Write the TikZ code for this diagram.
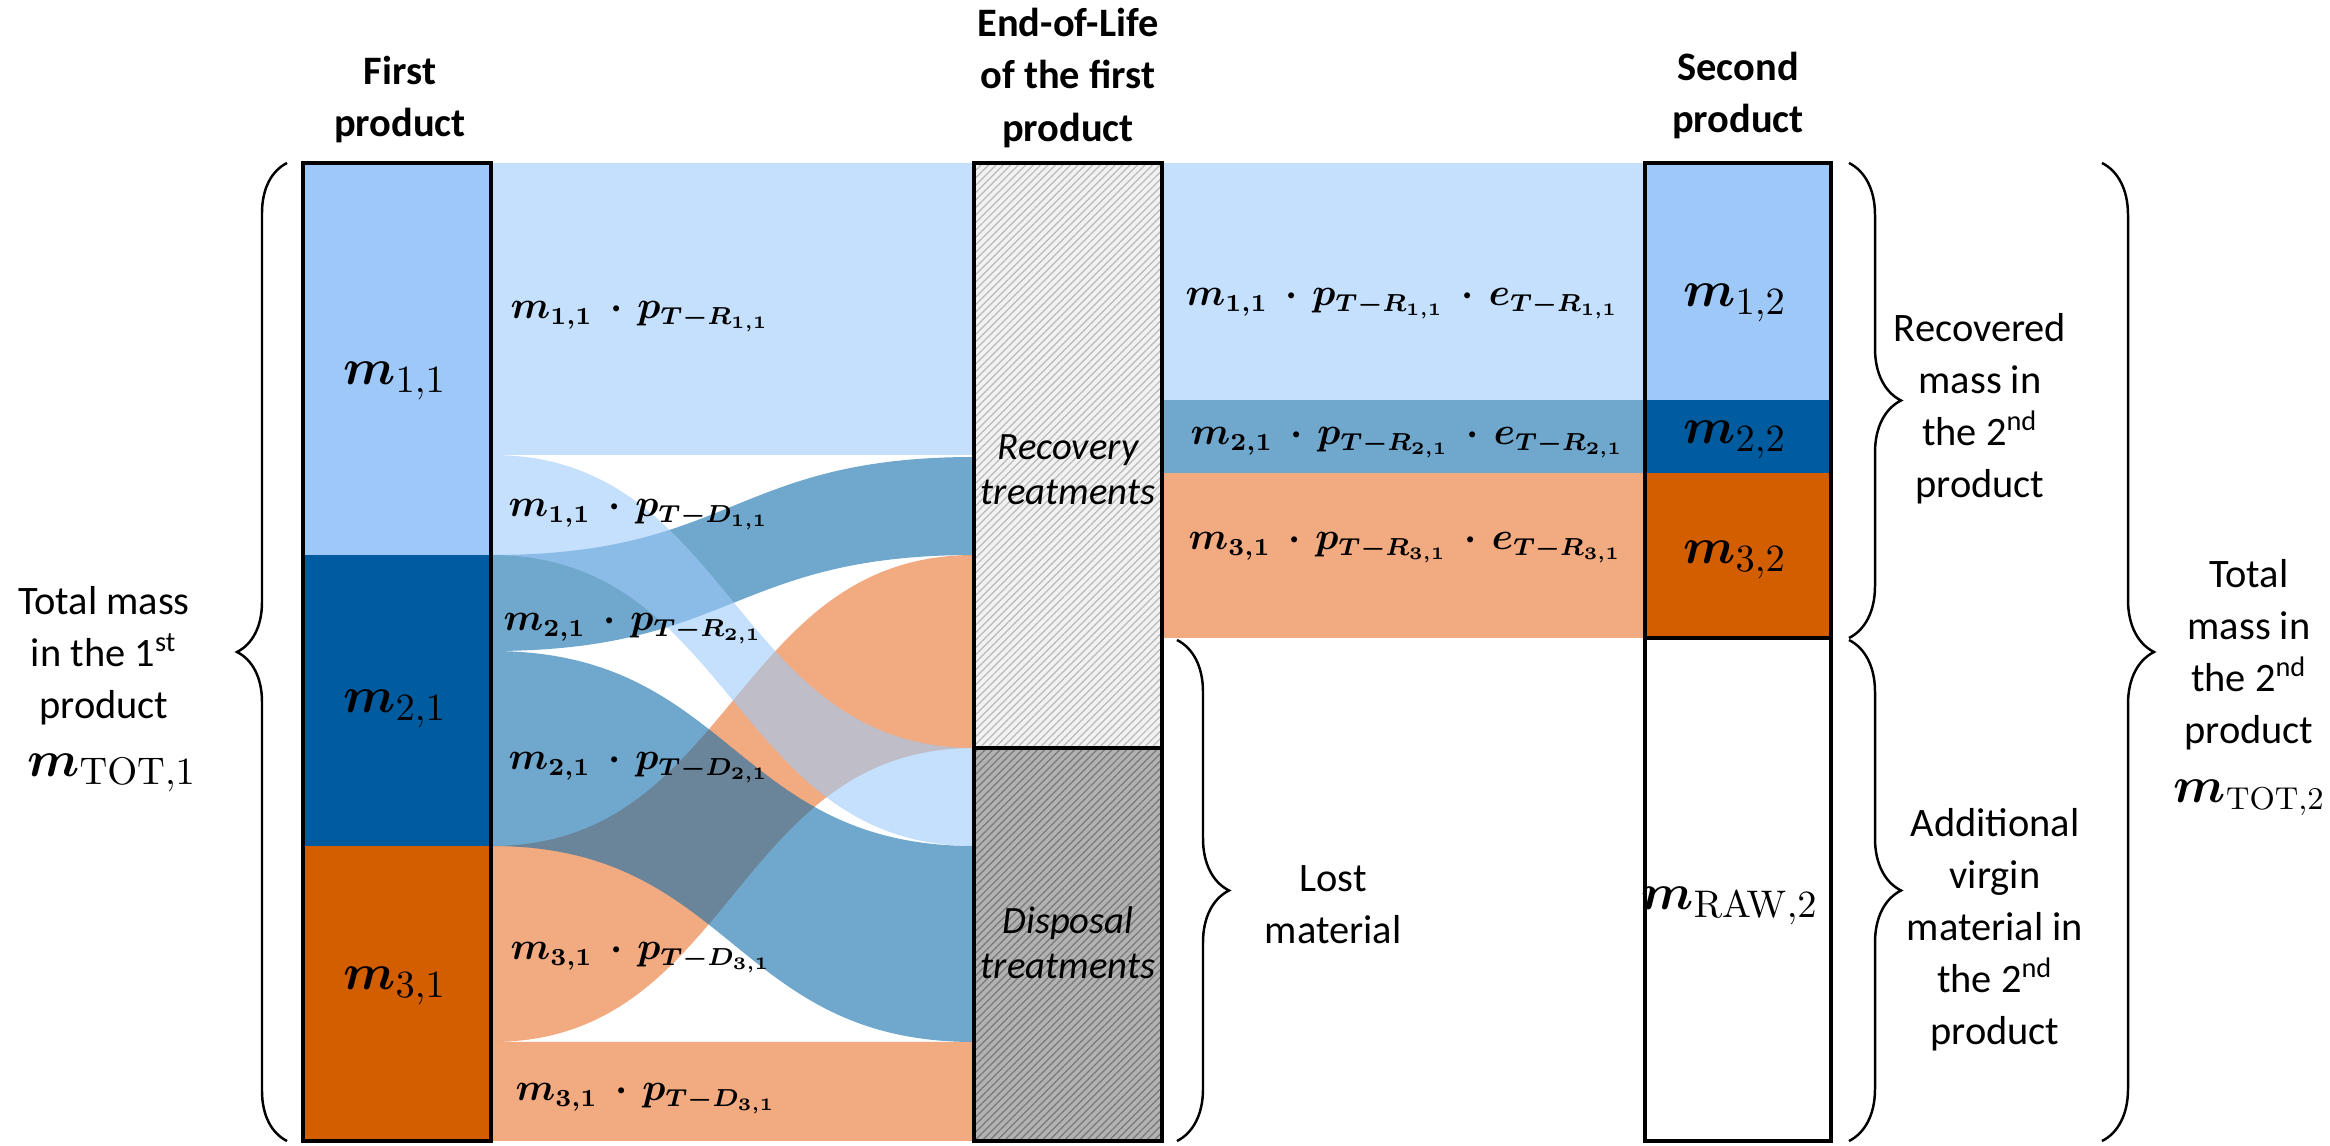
\documentclass[tikz,border=0pt]{standalone}
\usepackage[no-math]{fontspec}
\setmainfont{Carlito}
\usepackage{amsmath,bm}
\usetikzlibrary{patterns.meta,decorations.pathreplacing}

% solid colours of the product bars
\definecolor{barA}{RGB}{157,200,247}
\definecolor{barB}{RGB}{0,92,158}
\definecolor{barC}{RGB}{211,94,0}
% base colours of the translucent flows
\definecolor{flowA}{RGB}{158,203,250}
\definecolor{flowB}{RGB}{17,108,170}
\definecolor{flowC}{RGB}{233,113,43}
% end-of-life boxes
\definecolor{recBg}{RGB}{242,242,242}
\definecolor{recHatch}{RGB}{185,185,185}
\definecolor{dispBg}{RGB}{178,178,178}
\definecolor{dispHatch}{RGB}{120,120,120}

% flow formulas: mass times share (times efficiency)
\newcommand\flowmp[3]{$\bm{m}_{\bm{#1}}\ \bm{\cdot}\,\bm{p}_{\bm{T-#2_{#3}}}$}
\newcommand\flowmpe[3]{$\bm{m}_{\bm{#1}}\ \bm{\cdot}\,\bm{p}_{\bm{T-#2_{#3}}}\ \bm{\cdot}\,\bm{e}_{\bm{T-#2_{#3}}}$}

\tikzset{
  flowfill/.style={fill=#1, fill opacity=0.6},
  outline/.style={draw=black, line width=1pt},
  bracedeco/.style={decorate, decoration={brace, amplitude=#1}, line width=0.7pt},
  txt/.style={align=center, inner sep=0pt, font=\fontsize{11.5}{14.8}\selectfont},
  head/.style={txt, font=\fontsize{11.5}{14.8}\selectfont\bfseries},
  eoltxt/.style={align=center, inner sep=0pt, font=\fontsize{11}{12.8}\selectfont\itshape},
  flowlbl/.style={anchor=west, inner sep=0pt, font=\fontsize{10.5}{12}\selectfont},
  barlbl/.style={inner sep=0pt, font=\fontsize{15}{18}\selectfont},
}

% a sankey ribbon from the first product (x=492) to the end-of-life box (x=974)
\newcommand\ribbon[5]{%
  \fill[flowfill=#1] (492,#2) .. controls (733,#2) and (733,#4) .. (974,#4)
    -- (974,#5) .. controls (733,#5) and (733,#3) .. (492,#3) -- cycle;}

\begin{document}
\begin{tikzpicture}[x=0.1mm, y=-0.1mm]
\useasboundingbox (0,0) rectangle (2330,1146);

% ---------- flows: first product -> end-of-life ----------
\ribbon{flowA}{163}{455}{163}{455}
\ribbon{flowC}{846}{1042}{555}{748}
\ribbon{flowB}{555}{651}{457}{555}
\ribbon{flowB}{651}{846}{846}{1042}
\ribbon{flowA}{455}{555}{748}{846}
\ribbon{flowC}{1042}{1141}{1042}{1141}

% ---------- flows: recovery -> second product ----------
\fill[flowfill=flowA] (1162,163) rectangle (1645,400);
\fill[flowfill=flowB] (1162,400) rectangle (1645,473);
\fill[flowfill=flowC] (1162,473) rectangle (1645,638);

% ---------- first product bar ----------
\fill[barA] (303,163) rectangle (491,555);
\fill[barB] (303,555) rectangle (491,846);
\fill[barC] (303,846) rectangle (491,1141);
\draw[outline] (303,163) rectangle (491,1141);

% ---------- end-of-life box ----------
\fill[recBg] (974,163) rectangle (1162,748);
\fill[pattern={Lines[angle=45,distance=1.5pt,line width=0.35pt]}, pattern color=recHatch] (974,163) rectangle (1162,748);
\fill[dispBg] (974,748) rectangle (1162,1141);
\fill[pattern={Lines[angle=45,distance=1.5pt,line width=0.35pt]}, pattern color=dispHatch] (974,748) rectangle (1162,1141);
\draw[outline] (974,163) rectangle (1162,1141);
\draw[outline] (974,748) -- (1162,748);

% ---------- second product bar ----------
\fill[barA] (1645,163) rectangle (1831,400);
\fill[barB] (1645,400) rectangle (1831,473);
\fill[barC] (1645,473) rectangle (1831,638);
\fill[white] (1645,638) rectangle (1831,1141);
\draw[outline] (1645,163) rectangle (1831,1141);
\draw[outline, line width=1.4pt] (1645,638) -- (1831,638);

% ---------- column headings ----------
\node[head] (hfirst) at (400,100) {First\\product};
\node[head] (heol) at (1068,78) {End-of-Life\\of the first\\product};
\node[head] (hsecond) at (1738,96) {Second\\product};

% ---------- bar labels ----------
\node[barlbl] (m11) at (395,381) {$\bm{m}_{1,1}$};
\node[barlbl] (m21) at (395,709) {$\bm{m}_{2,1}$};
\node[barlbl] (m31) at (395,986) {$\bm{m}_{3,1}$};
\node[barlbl] (m12) at (1735,303) {$\bm{m}_{1,2}$};
\node[barlbl] (m22) at (1735,440) {$\bm{m}_{2,2}$};
\node[barlbl] (m32) at (1735,560) {$\bm{m}_{3,2}$};
\node[barlbl] (mraw) at (1730,906) {$\bm{m}_{\mathrm{RAW},2}$};

\node[eoltxt] (rec) at (1068,470) {Recovery\\treatments};
\node[eoltxt] (disp) at (1068,943) {Disposal\\treatments};

% ---------- flow labels ----------
\node[flowlbl] (f1) at (510,316) {\flowmp{1,1}{R}{1,1}};
\node[flowlbl] (f2) at (508,514) {\flowmp{1,1}{D}{1,1}};
\node[flowlbl] (f3) at (503,628) {\flowmp{2,1}{R}{2,1}};
\node[flowlbl] (f4) at (508,767) {\flowmp{2,1}{D}{2,1}};
\node[flowlbl] (f5) at (510,957) {\flowmp{3,1}{D}{3,1}};
\node[flowlbl] (f6) at (515,1098) {\flowmp{3,1}{D}{3,1}};

\node[flowlbl] (g1) at (1185,303) {\flowmpe{1,1}{R}{1,1}};
\node[flowlbl] (g2) at (1190,442) {\flowmpe{2,1}{R}{2,1}};
\node[flowlbl] (g3) at (1188,547) {\flowmpe{3,1}{R}{3,1}};

% ---------- braces ----------
\coordinate (lb1) at (287,1141); \coordinate (lb2) at (287,163);
\draw[bracedeco=5mm] (lb1) -- (lb2);
\coordinate (lm1) at (1177,640); \coordinate (lm2) at (1177,1141);
\draw[bracedeco=5.2mm] (lm1) -- (lm2);
\coordinate (rr1) at (1849,163); \coordinate (rr2) at (1849,638);
\draw[bracedeco=5.2mm] (rr1) -- (rr2);
\coordinate (ra1) at (1849,640); \coordinate (ra2) at (1849,1141);
\draw[bracedeco=5.2mm] (ra1) -- (ra2);
\coordinate (rt1) at (2102,163); \coordinate (rt2) at (2102,1141);
\draw[bracedeco=5.2mm] (rt1) -- (rt2);

% ---------- side texts ----------
\node[txt] (tot1) at (104,656) {Total mass\\in the 1\textsuperscript{st}\\product};
\node[barlbl] (mtot1) at (112,773) {$\bm{m}_{\mathrm{TOT},1}$};
\node[txt] (lost) at (1333,905) {Lost\\material};
\node[txt] (recmass) at (1980,409) {Recovered\\mass in\\the 2\textsuperscript{nd}\\product};
\node[txt] (addmass) at (1995,930) {Additional\\virgin\\material in\\the 2\textsuperscript{nd}\\product};
\node[txt] (tot2) at (2249,655) {Total\\mass in\\the 2\textsuperscript{nd}\\product};
\node[barlbl, anchor=east, font=\fontsize{13.5}{16}\selectfont] (mtot2) at (2326,798) {$\bm{m}_{\mathrm{TOT},2}$};
\end{tikzpicture}
\end{document}
